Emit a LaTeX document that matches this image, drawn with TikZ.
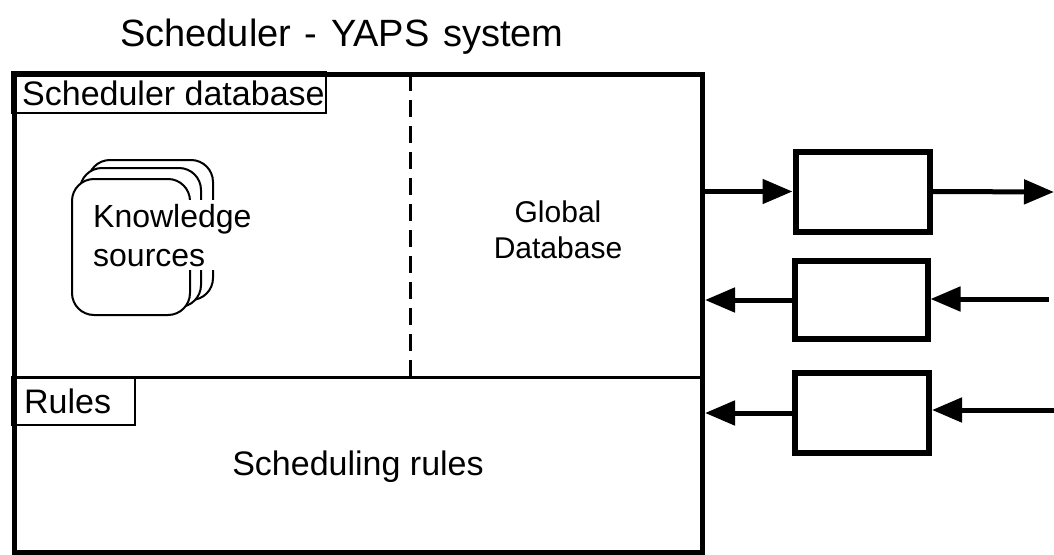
\documentclass[tikz,border=0pt]{standalone}
\usepackage{fontspec}
\setmainfont{Liberation Sans}
\usetikzlibrary{arrows.meta}
\tikzset{
  thickbox/.style={draw, line width=6pt, minimum width=134pt, minimum height=80pt},
  labelbox/.style={draw, line width=2pt, anchor=north west, outer sep=0pt, inner sep=0pt},
  card/.style={draw, fill=white, line width=2pt, rounded corners=22pt},
  flow/.style={line width=5pt, -{Triangle[length=30pt,width=24pt]}},
  txt/.style={font=\fontsize{34}{40}\selectfont}
}
\begin{document}
\begin{tikzpicture}[x=1pt,y=-1pt]
\useasboundingbox (0,0) rectangle (1054,554);
% title
\node[font=\fontsize{38}{44}\selectfont, anchor=base west, inner sep=0pt] (title) at (120,46) {Scheduler\hspace{3pt} -\hspace{3pt} YAPS\hspace{3pt} system};
% main box
\node[draw, line width=5pt, minimum width=688pt, minimum height=478pt, anchor=north west] (main) at (12,72) {};
\coordinate (divL) at (12,377);
\coordinate (divR) at (700,377);
\draw[line width=3pt] (divL) -- (divR);
% labels
\node[labelbox, minimum width=314pt, minimum height=41pt] (sdb) at (12,72) {};
\node[txt, anchor=base west, inner sep=0pt] (sdbt) at (22,105) {Scheduler database};
\node[labelbox, minimum width=123pt, minimum height=48pt] (rul) at (12,377) {};
\node[txt, anchor=base west, inner sep=0pt] (rult) at (24,413) {Rules};
% dashed line
\coordinate (dashT) at (410,74);
\coordinate (dashB) at (410,377);
\draw[line width=3pt, dash pattern=on 17pt off 9pt] (dashT) -- (dashB);
% global database
\node[font=\fontsize{30}{36}\selectfont, align=center] (gdb) at (558,230) {Global\\Database};
% scheduling rules
\node[txt, anchor=base, inner sep=0pt] (sr) at (358,475) {Scheduling rules};
% knowledge sources
\draw[card] (88,160) rectangle (213,300);
\draw[card] (80,168) rectangle (201,307);
\draw[card] (72,179) rectangle (190,315);
\node[font=\fontsize{32}{39}\selectfont, align=left, anchor=base west, fill=white, inner xsep=1pt, inner ysep=4pt] (ks) at (92,266) {Knowledge\\sources};
% right boxes
\node[thickbox] (b1) at (862.5,191.5) {};
\node[thickbox, minimum width=133pt, minimum height=78pt] (b2) at (861,300) {};
\node[thickbox, minimum height=80pt] (b3) at (862,413) {};
\coordinate (o1) at (1054,192);
\coordinate (i2) at (1049,299);
\coordinate (i3) at (1054,410);
\draw[flow] (main.east |- b1.west) -- (b1.west);
\draw[flow] (b1.east) -- (o1);
\draw[flow] (b2.west) -- (main.east |- b2.west);
\draw[flow] (i2) -- (i2 -| b2.east);
\draw[flow] (b3.west) -- (main.east |- b3.west);
\draw[flow] (i3) -- (i3 -| b3.east);
\end{tikzpicture}
\end{document}
